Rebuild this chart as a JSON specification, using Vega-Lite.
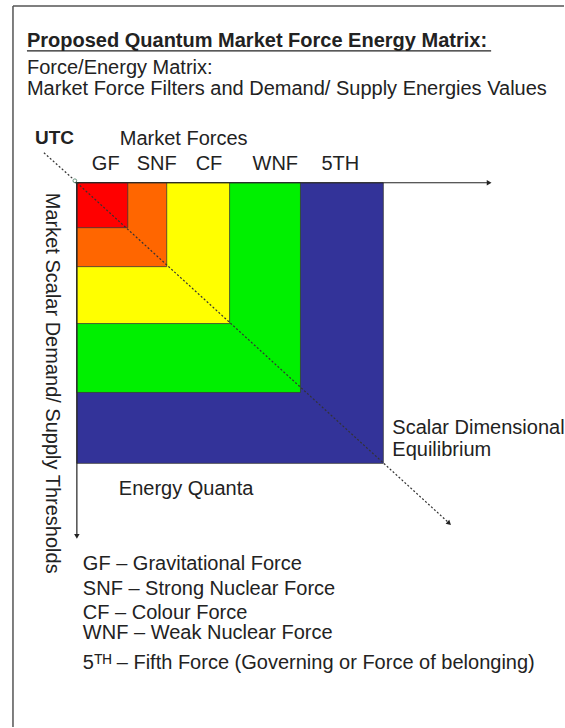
{
  "$schema": "https://vega.github.io/schema/vega-lite/v6.json",
  "width": 565,
  "height": 728,
  "padding": 0,
  "autosize": {"type": "fit", "contains": "padding"},
  "background": "white",
  "config": {"view": {"stroke": null}, "text": {"font": "Liberation Sans", "color": "#222"}},
  "datasets": {
    "squares": [
      {"force": "5TH", "x": 77, "x2": 384, "y": 183, "y2": 464},
      {"force": "WNF", "x": 77, "x2": 301, "y": 183, "y2": 393},
      {"force": "CF", "x": 77, "x2": 230, "y": 183, "y2": 324},
      {"force": "SNF", "x": 77, "x2": 167, "y": 183, "y2": 267},
      {"force": "GF", "x": 77, "x2": 128, "y": 183, "y2": 228}
    ],
    "frame": [
      {"part": "left", "x": 13, "y": 6, "x2": 13, "y2": 728},
      {"part": "top", "x": 13, "y": 6, "x2": 565, "y2": 6}
    ],
    "axes": [
      {"part": "market forces", "x": 75, "y": 183, "x2": 490, "y2": 183},
      {"part": "thresholds", "x": 77, "y": 183, "x2": 77, "y2": 536},
      {"part": "title underline", "x": 27, "y": 51, "x2": 492, "y2": 51}
    ],
    "dotted": [
      {"part": "utc", "x": 44, "y": 153, "x2": 73, "y2": 179},
      {"part": "equilibrium", "x": 77, "y": 183, "x2": 449, "y2": 523}
    ],
    "heads": [
      {"part": "market forces", "x": 490, "y": 183, "dir": 0},
      {"part": "thresholds", "x": 77, "y": 537, "dir": 90},
      {"part": "equilibrium", "x": 450, "y": 524, "dir": 42.5}
    ],
    "origin": [{"x": 75, "y": 181}],
    "title": [{"x": 27, "y": 41, "text": "Proposed Quantum Market Force Energy Matrix:"}],
    "subtitle": [
      {"x": 27, "y": 68, "text": "Force/Energy Matrix:"},
      {"x": 27, "y": 89, "text": "Market Force Filters and Demand/ Supply Energies Values"}
    ],
    "bold": [{"x": 35, "y": 138, "text": "UTC"}],
    "labels": [
      {"x": 120, "y": 139, "text": "Market Forces"},
      {"x": 92, "y": 164, "text": "GF"},
      {"x": 137, "y": 164, "text": "SNF"},
      {"x": 196, "y": 164, "text": "CF"},
      {"x": 253, "y": 164, "text": "WNF"},
      {"x": 322, "y": 164, "text": "5TH"},
      {"x": 393, "y": 429, "text": "Scalar Dimensional"},
      {"x": 393, "y": 451, "text": "Equilibrium"},
      {"x": 119, "y": 490, "text": "Energy Quanta"},
      {"x": 83, "y": 565, "text": "GF – Gravitational Force"},
      {"x": 83, "y": 590, "text": "SNF – Strong Nuclear Force"},
      {"x": 83, "y": 614, "text": "CF – Colour Force"},
      {"x": 83, "y": 634, "text": "WNF – Weak Nuclear Force"},
      {"x": 83, "y": 664, "text": "5ᵀᴴ – Fifth Force (Governing or Force of belonging)"}
    ],
    "vertical": [{"x": 52, "y": 193, "text": "Market Scalar Demand/ Supply Thresholds"}]
  },
  "encoding": {
    "x": {"field": "x", "type": "quantitative", "axis": null, "scale": {"domain": [0, 565], "nice": false, "zero": false}},
    "y": {"field": "y", "type": "quantitative", "axis": null, "scale": {"domain": [0, 728], "nice": false, "zero": false, "reverse": true}}
  },
  "layer": [
    {
      "data": {"name": "squares"},
      "mark": {"type": "rect", "stroke": "#3a3a3a", "strokeWidth": 0.8},
      "encoding": {
        "x2": {"field": "x2"},
        "y2": {"field": "y2"},
        "color": {"field": "force", "type": "nominal", "legend": null,
          "scale": {"domain": ["GF", "SNF", "CF", "WNF", "5TH"], "range": ["#ff0000", "#ff6600", "#ffff00", "#00f000", "#333399"]}}
      }
    },
    {
      "data": {"name": "frame"},
      "mark": {"type": "rule", "color": "#555555", "strokeWidth": 1.5},
      "encoding": {"x2": {"field": "x2"}, "y2": {"field": "y2"}}
    },
    {
      "data": {"name": "axes"},
      "mark": {"type": "rule", "color": "#222222", "strokeWidth": 1.2},
      "encoding": {"x2": {"field": "x2"}, "y2": {"field": "y2"}}
    },
    {
      "data": {"name": "dotted"},
      "mark": {"type": "rule", "color": "#333333", "strokeWidth": 1.2, "strokeDash": [2, 2]},
      "encoding": {"x2": {"field": "x2"}, "y2": {"field": "y2"}}
    },
    {
      "data": {"name": "heads"},
      "mark": {"type": "point", "shape": "triangle-right", "filled": true, "color": "#222222", "size": 30, "opacity": 1},
      "encoding": {"angle": {"field": "dir", "type": "quantitative", "scale": null}}
    },
    {
      "data": {"name": "origin"},
      "mark": {"type": "point", "shape": "circle", "filled": false, "color": "#2a6a4a", "size": 14, "strokeWidth": 1}
    },
    {
      "data": {"name": "title"},
      "mark": {"type": "text", "align": "left", "baseline": "middle", "fontSize": 20, "fontWeight": "bold"},
      "encoding": {"text": {"field": "text"}}
    },
    {
      "data": {"name": "subtitle"},
      "mark": {"type": "text", "align": "left", "baseline": "middle", "fontSize": 20},
      "encoding": {"text": {"field": "text"}}
    },
    {
      "data": {"name": "bold"},
      "mark": {"type": "text", "align": "left", "baseline": "middle", "fontSize": 19, "fontWeight": "bold"},
      "encoding": {"text": {"field": "text"}}
    },
    {
      "data": {"name": "labels"},
      "mark": {"type": "text", "align": "left", "baseline": "middle", "fontSize": 20},
      "encoding": {"text": {"field": "text"}}
    },
    {
      "data": {"name": "vertical"},
      "mark": {"type": "text", "align": "left", "baseline": "middle", "fontSize": 20, "angle": 90},
      "encoding": {"text": {"field": "text"}}
    }
  ]
}
